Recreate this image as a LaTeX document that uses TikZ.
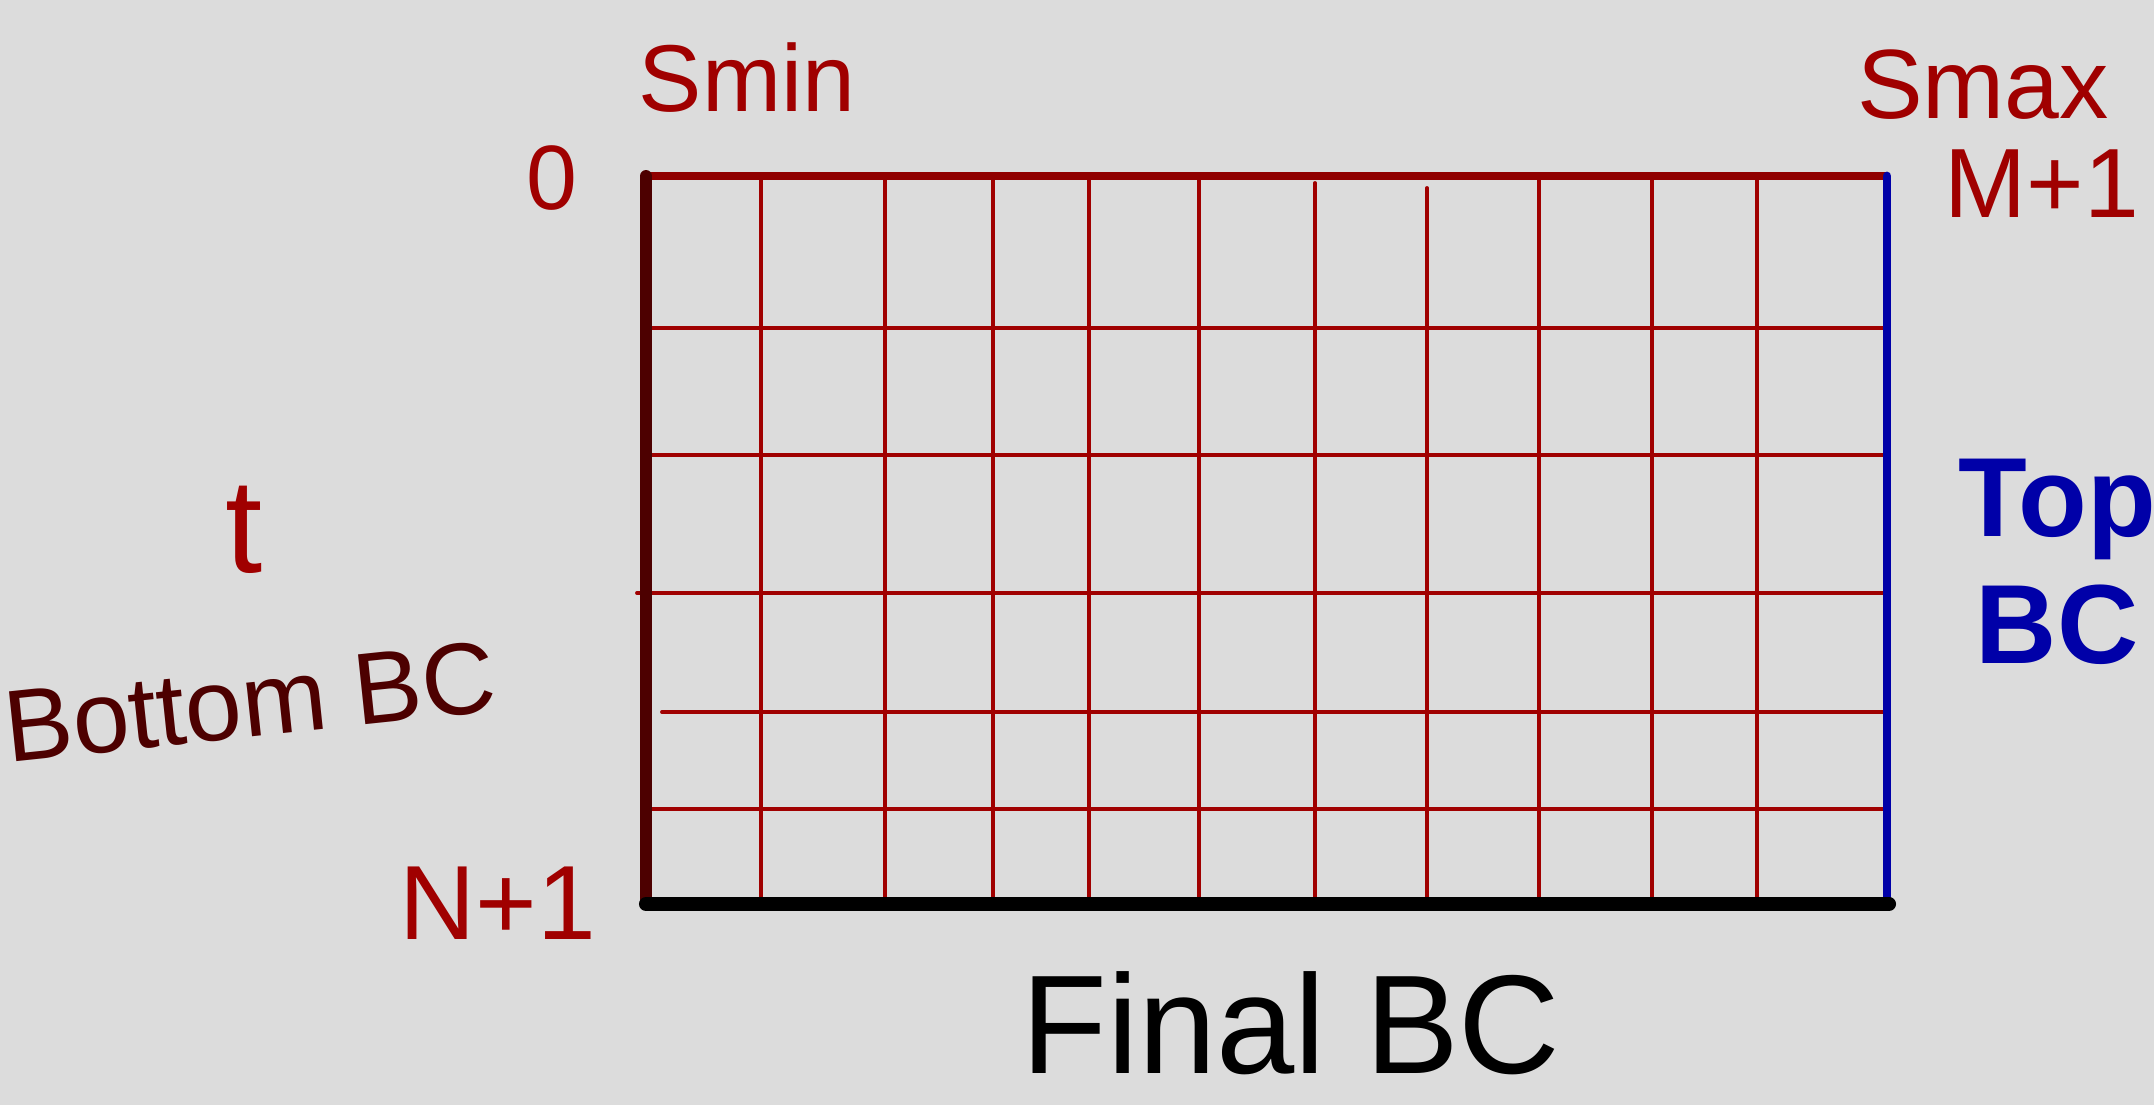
\documentclass[tikz,border=0pt]{standalone}
\usepackage{fontspec}
\setmainfont{Liberation Sans}
\usepackage{xcolor}
\usepackage{tikz}
\usetikzlibrary{positioning}

\definecolor{inkred}{HTML}{A00000}
\definecolor{inkdark}{HTML}{4D0000}
\definecolor{inkblue}{HTML}{0000A8}
\definecolor{paper}{HTML}{DCDCDC}

\begin{document}
\begin{tikzpicture}[x=0.01cm, y=-0.01cm,
  gridline/.style={inkred, line width=1.1pt, line cap=round},
  redlab/.style={inkred, inner sep=0pt},
  every node/.style={inner sep=0pt}]
% paper
\fill[paper] (0,0) rectangle (2154,1105);
\useasboundingbox (0,0) rectangle (2154,1105);

% mesh
\foreach \x/\ys in {761/176,885/176,993/176,1089/176,1199/176,1315/183,1427/188,1539/176,1652/176,1757/178}
  \draw[gridline] (\x,\ys) -- (\x,904);
\foreach \y/\xs in {328/646,455/646,593/637,712/662,809/646}
  \draw[gridline] (\xs,\y) -- (1884,\y);

% boundaries
\draw[inkred!90!black, line width=2pt] (646,176) -- (1887,176);
\draw[inkdark, line width=3.4pt, line cap=round] (646,176) -- (646,904);
\draw[inkblue, line width=2.5pt, line cap=round] (1887,176) -- (1887,904);
\draw[black, line width=4pt, line cap=round] (646,904) -- (1889,904);

% labels
\node[redlab, font=\fontsize{26}{30}\selectfont] (zero) at (552,178) {0};
\node[redlab, font=\fontsize{27}{32}\selectfont] (smin) at (747,78) {Smin};
\node[redlab, font=\fontsize{28}{32}\selectfont] (smax) at (1983,85) {Smax};
\node[redlab, font=\fontsize{28}{32}\selectfont] (mtop) at (2042,184) {M+1};
\node[redlab, font=\fontsize{38}{42}\selectfont] (tlab) at (244,530) {t};
\node[inkdark, rotate=6, font=\fontsize{29}{34}\selectfont] (bottombc) at (250,702) {Bottom BC};
\node[redlab, font=\fontsize{30}{34}\selectfont] (nlab) at (498,903) {N+1};
\node[black, font=\fontsize{40}{44}\selectfont] (finalbc) at (1291,1023) {Final BC};
\node[inkblue, align=center, font=\bfseries\fontsize{32}{36}\selectfont] (topbc) at (2057,562) {Top\\BC};
\end{tikzpicture}
\end{document}
